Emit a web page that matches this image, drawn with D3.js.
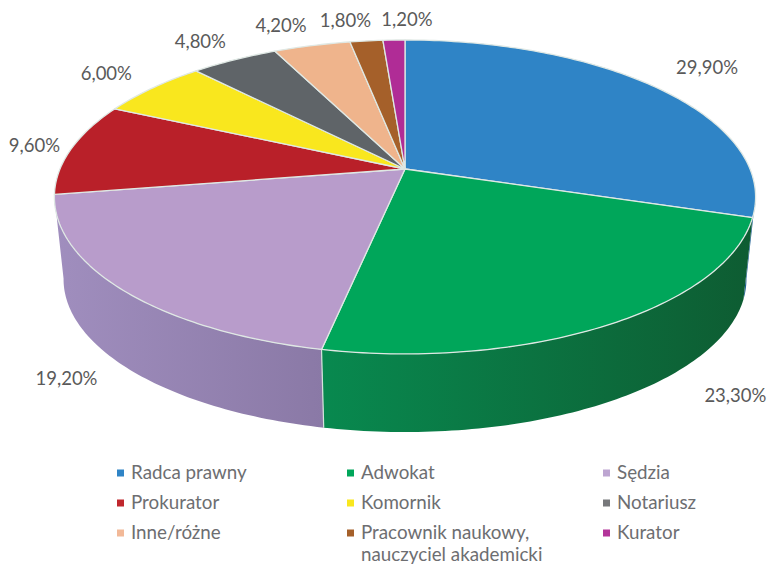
<!DOCTYPE html>
<html>
<head>
<meta charset="utf-8">
<script src="https://cdnjs.cloudflare.com/ajax/libs/d3/7.8.5/d3.min.js"></script>
<style>
  html, body { margin: 0; padding: 0; background: #fff; }
  svg { display: block; }
  text { font-family: Lato, "Open Sans", sans-serif; }
</style>
</head>
<body>
<svg id="chart"></svg>
<script>
var categories = ["Radca prawny", "Adwokat", "Sędzia", "Prokurator", "Komornik", "Notariusz", "Inne/różne", "Pracownik naukowy,|nauczyciel akademicki", "Kurator"];
var values = [29.9, 23.3, 19.2, 9.6, 6.0, 4.8, 4.2, 1.8, 1.2];
var valueLabels = ["29,90%", "23,30%", "19,20%", "9,60%", "6,00%", "4,80%", "4,20%", "1,80%", "1,20%"];
var colors = ["#2f84c6", "#00a65a", "#b89ccb", "#b92029", "#f9e71e", "#5f6468", "#efb48c", "#a5602a", "#b02c96"];
var legendColors = ["#2f84c6", "#00a65a", "#bda5d1", "#c0272d", "#f9e71e", "#77787b", "#f2b998", "#a5602a", "#b3359a"];
var sideLeft = ["#1d5f94", "#08894f", "#a08ebe"];
var sideRight = ["#1d5f94", "#0e5c32", "#8a79a6"];

//label offset from the middle of the slice's rim, in pixels
var labelOffsets = [[50, -18], [124, 73], [-55, 91], [-37, -1], [-46, -13], [-34, -17], [-31, -18], [-21, -19], [13, -19]];

var screen_ = { width: 769, height: 565 };

//the pie is a tilted disc: a perspective projection of a unit circle
var disc = { cx: 405, cy: 169, rx: 345, ry: 152, k: 0.178 };
var lower = { cx: 405, cy: 252, rx: 336, ry: 148, k: 0.178 };

var project = function (plane, angle) {
  var u = Math.sin(angle);
  var v = -Math.cos(angle);
  var w = 1 - plane.k * v;
  return [plane.cx + (plane.rx * u) / w, plane.cy + (plane.ry * v) / w];
};

var sampleAngles = function (start, end) {
  var n = Math.max(2, Math.ceil((end - start) * 60));
  return d3.range(n + 1).map(function (i) {
    return start + ((end - start) * i) / n;
  });
};

var svg = d3.select("#chart").attr("width", screen_.width).attr("height", screen_.height);
var line = d3.line();

var arcs = d3.pie().sort(null).value(function (d) {
  return d;
})(values);

var defs = svg.append("defs");

// Draw the wall of the pie first, the top goes over it
var frontStart = (100 * Math.PI) / 180;
var frontEnd = (260 * Math.PI) / 180;
var walls = svg.append("g").classed("walls", true);

arcs.forEach(function (arc, i) {
  var start = Math.max(arc.startAngle, frontStart);
  var end = Math.min(arc.endAngle, frontEnd);
  if (end <= start) {
    return;
  }
  var angles = sampleAngles(start, end);
  var topRim = angles.map(function (a) {
    return project(disc, a);
  });
  var lowRim = angles.map(function (a) {
    return project(lower, a);
  }).reverse();

  var xs = topRim.concat(lowRim).map(function (p) {
    return p[0];
  });
  var grad = defs
    .append("linearGradient")
    .attr("id", "wall" + i)
    .attr("gradientUnits", "userSpaceOnUse")
    .attr("x1", d3.min(xs))
    .attr("x2", d3.max(xs))
    .attr("y1", 0)
    .attr("y2", 0);
  grad.append("stop").attr("offset", 0).attr("stop-color", sideLeft[i]);
  grad.append("stop").attr("offset", 1).attr("stop-color", sideRight[i]);

  walls
    .append("path")
    .attr("d", line(topRim.concat(lowRim)) + "Z")
    .style("fill", "url(#wall" + i + ")");
});

//seam between the two big walls
var seamAngle = arcs[1].endAngle;
walls
  .append("path")
  .attr("d", line([project(disc, seamAngle), project(lower, seamAngle)]))
  .style("fill", "none")
  .style("stroke", "#d5e4dc")
  .style("stroke-width", 1.2);

// Draw the slices
svg
  .append("g")
  .classed("slices", true)
  .selectAll("path")
  .data(arcs)
  .enter()
  .append("path")
  .attr("d", function (arc) {
    var rim = sampleAngles(arc.startAngle, arc.endAngle).map(function (a) {
      return project(disc, a);
    });
    return line([[disc.cx, disc.cy]].concat(rim)) + "Z";
  })
  .style("fill", function (arc, i) {
    return colors[i];
  })
  .style("stroke", "#dfe8e4")
  .style("stroke-width", 1.3)
  .style("stroke-linejoin", "round");

// Value labels
svg
  .append("g")
  .classed("labels", true)
  .selectAll("text")
  .data(arcs)
  .enter()
  .append("text")
  .text(function (arc, i) {
    return valueLabels[i];
  })
  .attr("text-anchor", "middle")
  .attr("dominant-baseline", "middle")
  .attr("x", function (arc, i) {
    return project(disc, (arc.startAngle + arc.endAngle) / 2)[0] + labelOffsets[i][0];
  })
  .attr("y", function (arc, i) {
    return project(disc, (arc.startAngle + arc.endAngle) / 2)[1] + labelOffsets[i][1];
  })
  .style("font-size", "18.5px")
  .style("fill", "#5a5a5a");

// Legend, three columns
var rowScale = d3.scalePoint().domain([0, 1, 2]).range([473, 533]);
//the columns are not evenly spaced in the picture
var columnX = [117, 347, 603];

var legend = svg
  .append("g")
  .classed("legend", true)
  .selectAll("g")
  .data(categories)
  .enter()
  .append("g")
  .attr("transform", function (d, i) {
    return "translate(" + columnX[i % 3] + "," + rowScale(Math.floor(i / 3)) + ")";
  });

legend
  .append("rect")
  .attr("x", 0)
  .attr("y", -3.5)
  .attr("width", 7)
  .attr("height", 7)
  .style("fill", function (d, i) {
    return legendColors[i];
  });

legend
  .append("text")
  .style("font-size", "18.8px")
  .style("fill", "#6d6e71")
  .selectAll("tspan")
  .data(function (d) {
    return d.split("|");
  })
  .enter()
  .append("tspan")
  .attr("x", 14)
  .attr("y", function (d, i) {
    return 6 + i * 21.5;
  })
  .text(function (d) {
    return d;
  });
</script>
</body>
</html>
